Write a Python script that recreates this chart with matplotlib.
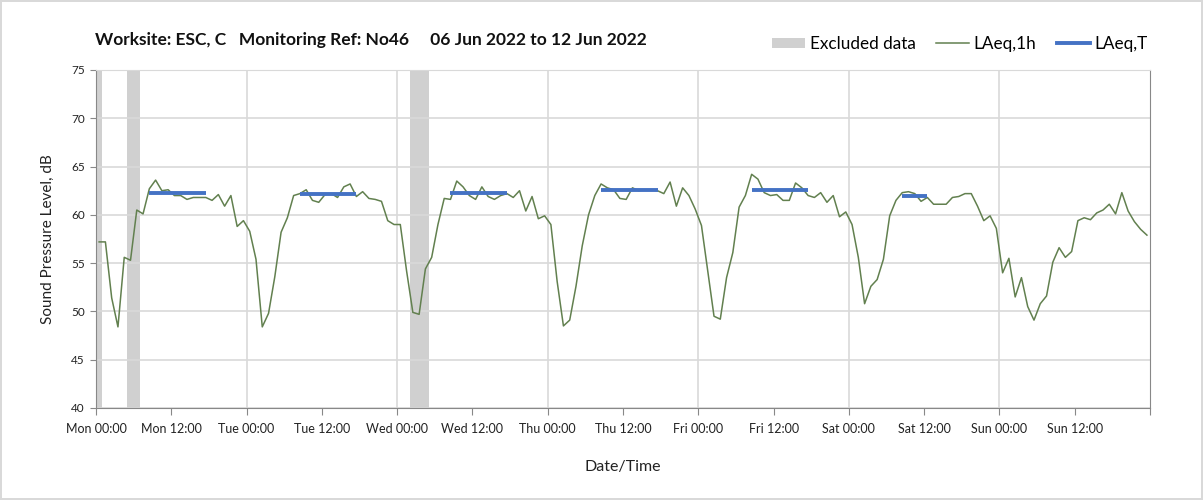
import numpy as np
import matplotlib
matplotlib.use("Agg")
import matplotlib.pyplot as plt
from matplotlib.patches import Patch
from matplotlib.lines import Line2D

plt.rcParams['font.family'] = ['Lato', 'DejaVu Sans']

# hourly LAeq,1h values, Mon 06 Jun 2022 00:00 onwards (168 hours)
laeq_1h = [
    57.2, 57.2, 51.4, 48.4, 55.6, 55.3, 60.5, 60.1, 62.7, 63.6, 62.5, 62.6,
    62.0, 62.0, 61.6, 61.8, 61.8, 61.8, 61.5, 62.1, 60.9, 62.0, 58.8, 59.4,
    58.3, 55.4, 48.4, 49.8, 53.6, 58.2, 59.7, 62.0, 62.2, 62.6, 61.5, 61.3,
    62.1, 62.2, 61.8, 62.9, 63.2, 61.9, 62.4, 61.7, 61.6, 61.4, 59.4, 59.0,
    59.0, 54.2, 49.9, 49.7, 54.4, 55.6, 59.0, 61.7, 61.6, 63.5, 62.9, 62.0,
    61.6, 62.9, 61.9, 61.6, 62.0, 62.2, 61.8, 62.5, 60.4, 61.9, 59.6, 59.9,
    59.0, 53.1, 48.5, 49.1, 52.6, 56.8, 60.0, 62.0, 63.2, 62.8, 62.6, 61.7,
    61.6, 62.8, 62.5, 62.6, 62.6, 62.5, 62.2, 63.4, 60.9, 62.8, 62.0, 60.6,
    58.9, 54.2, 49.5, 49.2, 53.5, 56.1, 60.8, 62.0, 64.2, 63.7, 62.3, 62.0,
    62.1, 61.5, 61.5, 63.3, 62.8, 62.0, 61.8, 62.3, 61.3, 62.0, 59.8, 60.3,
    59.0, 55.6, 50.8, 52.6, 53.3, 55.4, 59.9, 61.5, 62.3, 62.4, 62.2, 61.4,
    61.8, 61.1, 61.1, 61.1, 61.8, 61.9, 62.2, 62.2, 60.9, 59.4, 59.9, 58.6,
    54.0, 55.5, 51.5, 53.5, 50.5, 49.1, 50.8, 51.6, 55.1, 56.6, 55.6, 56.2,
    59.4, 59.7, 59.5, 60.2, 60.5, 61.1, 60.1, 62.3, 60.4, 59.3, 58.5, 57.9,
]

# LAeq,T daytime periods (start hour, end hour, level)
period_start = [8, 32, 56, 80, 104, 128]
period_end = [18, 42, 66, 90, 114, 133]
period_level = [62.3, 62.2, 62.3, 62.6, 62.6, 62.0]

# excluded data periods (start hour, end hour)
excl_start = [0, 5, 50]
excl_end = [1, 7, 53]

tick_labels = ['Mon 00:00', 'Mon 12:00', 'Tue 00:00', 'Tue 12:00', 'Wed 00:00',
               'Wed 12:00', 'Thu 00:00', 'Thu 12:00', 'Fri 00:00', 'Fri 12:00',
               'Sat 00:00', 'Sat 12:00', 'Sun 00:00', 'Sun 12:00', '']

green = '#62804f'
blue = '#4472c4'
grey = '#d0d0d0'

fig = plt.figure(figsize=(12.03, 5.0), dpi=100)
fig.patch.set_edgecolor('#d9d9d9')
fig.patch.set_linewidth(1.5)
ax = fig.add_axes([0.0798, 0.184, 0.8762, 0.676])

hours = np.arange(len(laeq_1h)) + 0.5
for s, e in zip(excl_start, excl_end):
    ax.axvspan(s, e, color=grey, lw=0, zorder=1)

ax.plot(hours, laeq_1h, color=green, lw=1.1, zorder=3)
for s, e, v in zip(period_start, period_end, period_level):
    ax.plot([s + 0.5, e - 0.5], [v, v], color=blue, lw=2.8, zorder=4,
            solid_capstyle='butt')

ax.set_xlim(0, 168)
ax.set_ylim(40, 75)
ax.set_yticks(range(40, 76, 5))
ax.set_xticks(range(0, 169, 12))
ax.set_xticklabels(tick_labels)
ax.tick_params(axis='x', labelsize=9, colors='#888888', labelcolor='#222222',
               length=5, pad=6)
ax.tick_params(axis='y', labelsize=8.5, colors='#888888', labelcolor='#222222',
               length=4, pad=4)

ax.grid(axis='y', color='#d9d9d9', lw=1.2, zorder=0)
for d in range(24, 168, 24):
    ax.axvline(d, color='#d9d9d9', lw=1.2, zorder=0)
for side in ['left', 'bottom', 'right']:
    ax.spines[side].set_color('#888888')
ax.spines['top'].set_color('#d9d9d9')

ax.set_ylabel('Sound Pressure Level, dB', fontsize=11, color='#222222', labelpad=12)
ax.set_xlabel('Date/Time', fontsize=11.5, color='#222222', labelpad=18)

fig.text(0.079, 0.92, 'Worksite: ESC, C   Monitoring Ref: No46     06 Jun 2022 to 12 Jun 2022',
         fontsize=12.5, fontweight='bold', color='#111111', va='center')

handles = [Patch(facecolor=grey, edgecolor='none'),
           Line2D([0], [0], color=green, lw=1.1),
           Line2D([0], [0], color=blue, lw=2.8)]
fig.legend(handles, ['Excluded data', 'LAeq,1h', 'LAeq,T'], loc='center right',
           bbox_to_anchor=(0.967, 0.912), ncol=3, frameon=False, fontsize=12.3,
           handlelength=1.9, handleheight=0.55, columnspacing=1.2, handletextpad=0.3)

fig.savefig('out.png', dpi=100)
